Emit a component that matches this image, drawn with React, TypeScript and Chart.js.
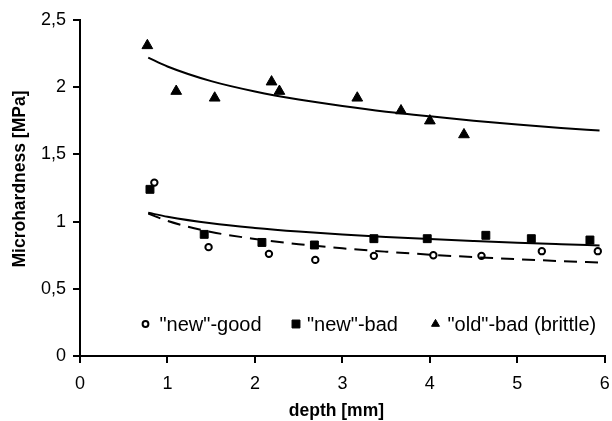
import React, { useEffect, useRef } from "react";
import { Chart, registerables } from "chart.js";
import { drawPoint } from "chart.js/helpers";

Chart.register(...registerables);

const FONT = "'Liberation Sans', Arial, Helvetica, sans-serif";

// Measured microhardness vs. depth for the three sample groups
const seriesLabels = ['"new"-good', '"new"-bad', '"old"-bad (brittle)'];

const goodDepth = [0.85, 1.47, 2.16, 2.69, 3.36, 4.04, 4.59, 5.28, 5.92];
const goodHardness = [1.29, 0.81, 0.76, 0.715, 0.745, 0.75, 0.745, 0.78, 0.78];

const badDepth = [0.8, 1.42, 2.08, 2.68, 3.36, 3.97, 4.64, 5.16, 5.83];
const badHardness = [1.24, 0.905, 0.845, 0.826, 0.873, 0.873, 0.898, 0.873, 0.863];

const oldDepth = [0.77, 1.1, 1.54, 2.19, 2.28, 3.17, 3.67, 4.0, 4.39];
const oldHardness = [2.31, 1.97, 1.92, 2.04, 1.97, 1.92, 1.825, 1.75, 1.647];

// Fitted trend curves sampled along the depth axis
const trendDepth = [0.78, 1, 1.5, 2, 2.5, 3, 3.5, 4, 4.5, 5, 5.5, 5.94];
const goodTrend = [1.06, 1.005, 0.923, 0.871, 0.832, 0.801, 0.776, 0.754, 0.736, 0.72, 0.706, 0.695];
const badTrend = [1.066, 1.036, 0.987, 0.953, 0.926, 0.904, 0.886, 0.87, 0.856, 0.843, 0.832, 0.823];
const oldTrend = [2.22, 2.154, 2.045, 1.968, 1.908, 1.86, 1.818, 1.783, 1.751, 1.723, 1.697, 1.677];

// Axis ticks
const xTickValues = [0, 1, 2, 3, 4, 5, 6];
const xTickLabels = ["0", "1", "2", "3", "4", "5", "6"];
const yTickValues = [0, 0.5, 1, 1.5, 2, 2.5];
const yTickLabels = ["0", "0,5", "1", "1,5", "2", "2,5"];

const xTitle = "depth [mm]";
const yTitle = "Microhardness [MPa]";

const pairs = (xs: number[], ys: number[]) => xs.map((x, i) => ({ x, y: ys[i] }));

const markerStyles = [
  { pointStyle: "circle", radius: 3.2, borderWidth: 2, fill: "#ffffff" },
  { pointStyle: "rect", radius: 5.6, borderWidth: 1, fill: "#000000" },
  { pointStyle: "triangle", radius: 6.2, borderWidth: 1, fill: "#000000" },
];

// legend swatches are drawn a little smaller than the plotted markers
const legendMarkerRadius = [2.9, 5.6, 4.6];
const legendMarkerOffset = [65.5, 216, 355.5];
const legendTextGap = [14, 11, 12];

const textPlugin = {
  id: "legendAndTitles",
  afterDraw(chart: any) {
    const { ctx, chartArea } = chart;
    const { left, right, top, bottom } = chartArea;
    ctx.save();

    // legend inside the plot, near the bottom
    const ly = bottom - 32;
    ctx.font = `20px ${FONT}`;
    ctx.textBaseline = "middle";
    ctx.textAlign = "left";
    seriesLabels.forEach((label, i) => {
      const m = markerStyles[i];
      const mx = left + legendMarkerOffset[i];
      ctx.fillStyle = m.fill;
      ctx.strokeStyle = "#000";
      ctx.lineWidth = m.borderWidth;
      drawPoint(
        ctx,
        { pointStyle: m.pointStyle, radius: legendMarkerRadius[i], borderWidth: m.borderWidth, rotation: 0 },
        mx,
        ly
      );
      ctx.fillStyle = "#000";
      ctx.fillText(label, mx + legendTextGap[i], ly + 1);
    });

    // axis titles
    ctx.font = `bold 17.5px ${FONT}`;
    ctx.textAlign = "center";
    ctx.textBaseline = "middle";
    ctx.fillText(xTitle, (left + right) / 2 - 6, chart.height - 10);

    ctx.translate(20, (top + bottom) / 2 - 9);
    ctx.rotate(-Math.PI / 2);
    ctx.fillText(yTitle, 0, 0);
    ctx.restore();
  },
};

export default function App() {
  const canvasRef = useRef<HTMLCanvasElement | null>(null);

  useEffect(() => {
    document.body.style.margin = "0";
    const canvas = canvasRef.current;
    if (!canvas) return;

    const markerDataset = (i: number, xs: number[], ys: number[]) => ({
      type: "scatter" as const,
      label: seriesLabels[i],
      data: pairs(xs, ys),
      showLine: false,
      pointStyle: markerStyles[i].pointStyle,
      pointRadius: markerStyles[i].radius,
      pointBorderWidth: markerStyles[i].borderWidth,
      pointBackgroundColor: markerStyles[i].fill,
      pointBorderColor: "#000",
      order: 1,
    });

    const trendDataset = (ys: number[], dash: number[]) => ({
      type: "line" as const,
      data: pairs(trendDepth, ys),
      borderColor: "#000",
      borderWidth: 2,
      borderDash: dash,
      pointRadius: 0,
      fill: false,
      cubicInterpolationMode: "monotone" as const,
      order: 0,
    });

    const chart = new Chart(canvas, {
      type: "scatter",
      data: {
        datasets: [
          trendDataset(goodTrend, [13, 8]),
          trendDataset(badTrend, []),
          trendDataset(oldTrend, []),
          markerDataset(0, goodDepth, goodHardness),
          markerDataset(1, badDepth, badHardness),
          markerDataset(2, oldDepth, oldHardness),
        ] as any,
      },
      options: {
        animation: false,
        responsive: false,
        events: [],
        layout: { padding: { top: 20, right: 4, left: 0, bottom: 0 } },
        plugins: {
          legend: { display: false },
          tooltip: { enabled: false },
        },
        scales: {
          x: {
            type: "linear",
            min: 0,
            max: 6,
            afterBuildTicks: (scale: any) => {
              scale.ticks = xTickValues.map((value) => ({ value }));
            },
            ticks: {
              color: "#000",
              font: { size: 18, family: FONT },
              padding: 10,
              maxRotation: 0,
              callback: (v: any) => xTickLabels[xTickValues.indexOf(Number(v))] ?? "",
            },
            grid: { drawOnChartArea: false, color: "#000", lineWidth: 2, tickLength: 7 },
            border: { color: "#000", width: 2 },
            afterFit: (scale: any) => {
              scale.height = 65;
              scale.paddingLeft = 0;
              scale.paddingRight = 0;
            },
          },
          y: {
            type: "linear",
            min: 0,
            max: 2.5,
            afterBuildTicks: (scale: any) => {
              scale.ticks = yTickValues.map((value) => ({ value }));
            },
            ticks: {
              color: "#000",
              font: { size: 18, family: FONT },
              padding: 7,
              callback: (v: any) => yTickLabels[yTickValues.indexOf(Number(v))] ?? "",
            },
            grid: { drawOnChartArea: false, color: "#000", lineWidth: 2, tickLength: 7 },
            border: { color: "#000", width: 2 },
            afterFit: (scale: any) => {
              scale.width = 80;
            },
          },
        },
      },
      plugins: [textPlugin],
    });

    return () => chart.destroy();
  }, []);

  return (
    <div style={{ width: 612, height: 421, background: "#fff" }}>
      <canvas ref={canvasRef} width={612} height={421} style={{ display: "block" }} />
    </div>
  );
}
